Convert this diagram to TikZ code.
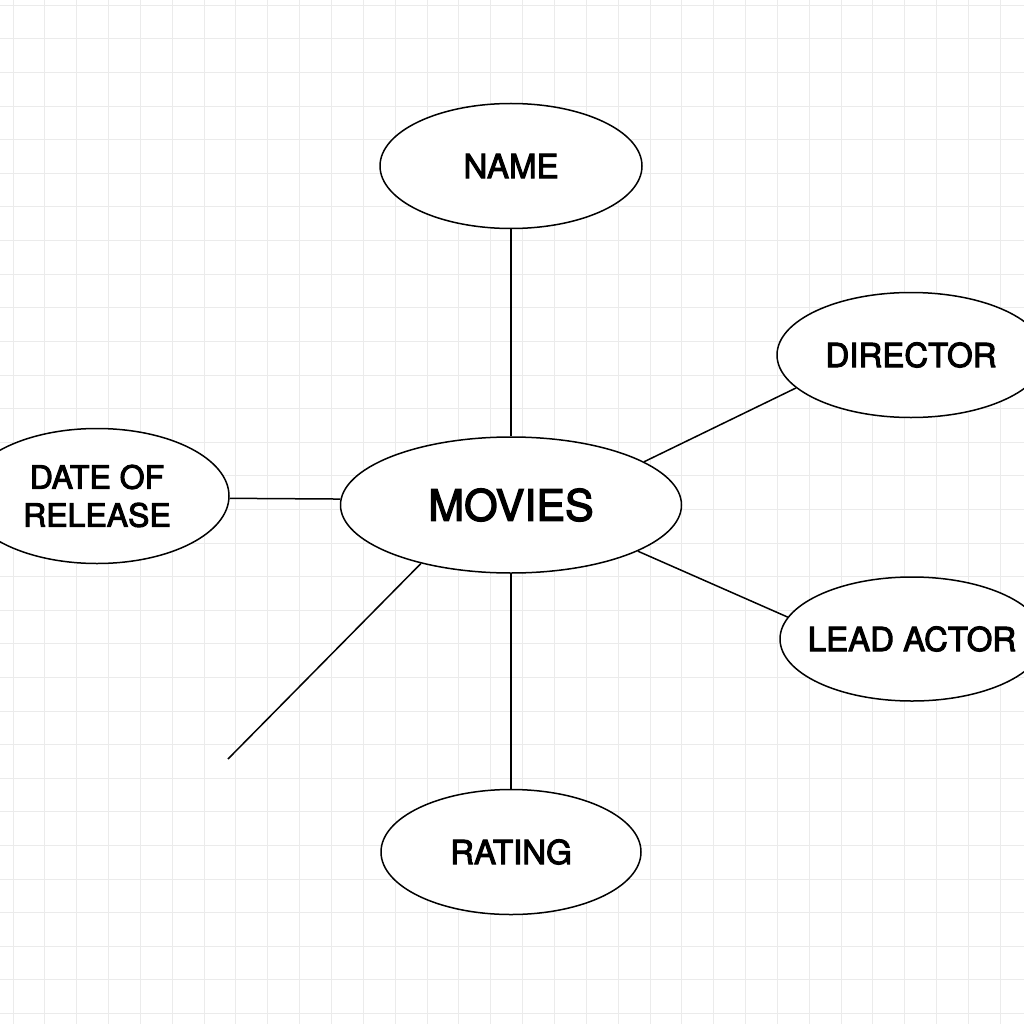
\documentclass[tikz,border=0pt]{standalone}
\usepackage{fontspec}
\setmainfont{TeX Gyre Heros}[BoldFont={TeX Gyre Heros}, BoldFeatures={FakeBold=3}]
\usetikzlibrary{shapes.geometric}
\usetikzlibrary{positioning}

\begin{document}
\begin{tikzpicture}[x=1pt, y=-1pt, on grid,
  attr/.style = {draw, ellipse, fill=white, line width=1.5pt, inner sep=0pt,
    minimum width=260pt, minimum height=124pt, align=center,
    font=\fontsize{33}{38}\selectfont\bfseries},
  link/.style = {line width=1.5pt},
  gridline/.style = {draw=black!8, line width=1pt}]

\useasboundingbox (0,0) rectangle (1024,1024);
\clip (0,0) rectangle (1024,1024);
\fill[white] (0,0) rectangle (1024,1024);
\foreach \i in {0,...,32} \draw[gridline] (13+31.85*\i,0) -- (13+31.85*\i,1024);
\foreach \j in {0,...,30} \draw[gridline] (0,5.4+33.6*\j) -- (1024,5.4+33.6*\j);

\node[attr, minimum width=341pt, minimum height=136pt, font=\fontsize{43}{48}\selectfont\bfseries] (MOVIES) at (511,505) {MOVIES};
\node[attr, minimum width=262pt, minimum height=125pt] (NAME) [above=339pt of MOVIES] {NAME};
\node[attr, minimum width=268pt, minimum height=125pt] (DIRECTOR) [above right=150pt and 400pt of MOVIES] {DIRECTOR};
\node[attr, minimum width=264pt, inner xsep=-30pt] (LEAD) [below right=134pt and 401pt of MOVIES] {LEAD ACTOR};
\node[attr, minimum width=260pt, minimum height=125pt] (RATING) [below=347pt of MOVIES] {RATING};
\node[attr, minimum width=264pt, minimum height=135pt, font=\fontsize{32}{38}\selectfont\bfseries] (DATE) [above left=9pt and 414pt of MOVIES] {DATE OF\\RELEASE};
\coordinate (loose) at (228,759);

\draw[link] (MOVIES.north) -- (NAME.south);
\draw[link] (MOVIES.18) -- (DIRECTOR.196);
\draw[link] (MOVIES.-20) -- (LEAD.170);
\draw[link] (MOVIES.south) -- (RATING.north);
\draw[link] (MOVIES.178) -- (DATE.-1);
\draw[link] (MOVIES.213) -- (loose);

\end{tikzpicture}
\end{document}
